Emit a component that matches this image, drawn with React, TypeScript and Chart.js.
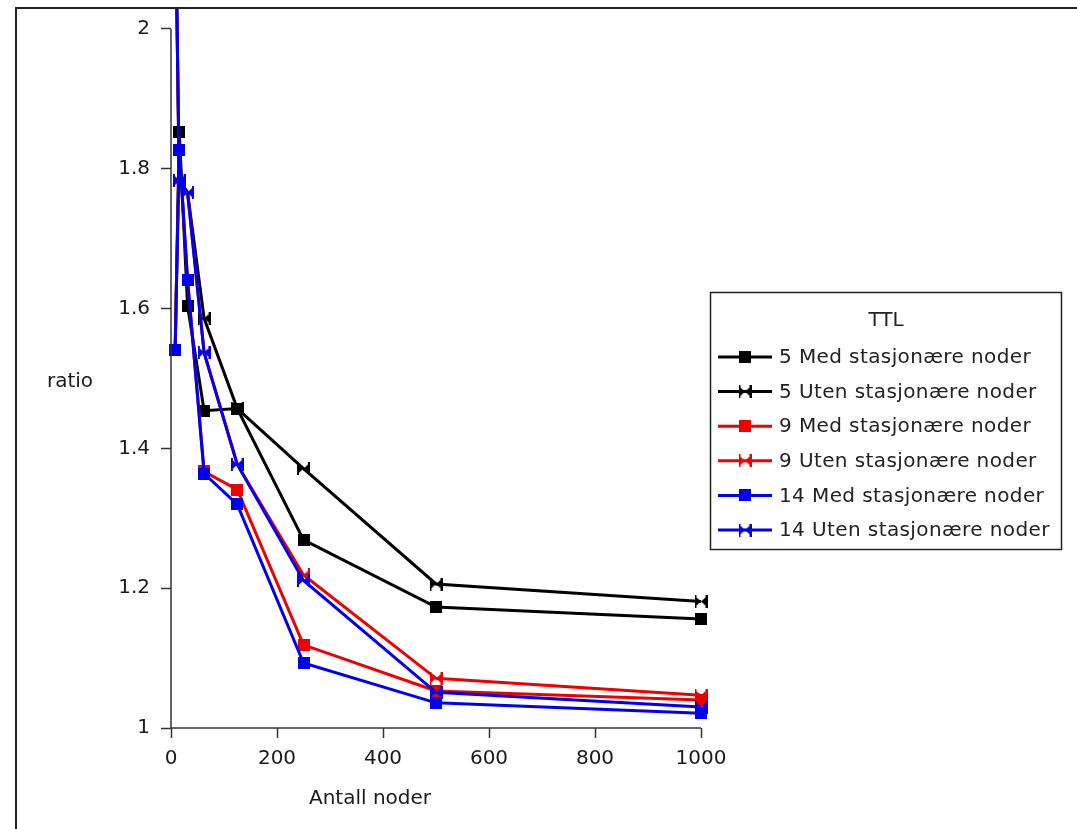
import { useEffect, useRef } from "react";
import { Chart, registerables } from "chart.js";

Chart.register(...registerables);

// ---- data ----
const xNodes = [7.8125, 15.625, 31.25, 62.5, 125, 250, 500, 1000];
const med5 = [1.541, 1.853, 1.604, 1.454, 1.457, 1.269, 1.173, 1.156];
const uten5 = [2.2, 1.783, 1.766, 1.586, 1.457, 1.371, 1.206, 1.181];
const med9 = [1.541, 1.827, 1.641, 1.367, 1.341, 1.119, 1.053, 1.04];
const uten9 = [2.2, 1.783, 1.766, 1.537, 1.377, 1.219, 1.071, 1.047];
const med14 = [1.541, 1.827, 1.641, 1.364, 1.32, 1.093, 1.036, 1.021];
const uten14 = [2.2, 1.783, 1.766, 1.537, 1.377, 1.211, 1.051, 1.03];
const seriesLabels = [
  "5 Med stasjonære noder",
  "5 Uten stasjonære noder",
  "9 Med stasjonære noder",
  "9 Uten stasjonære noder",
  "14 Med stasjonære noder",
  "14 Uten stasjonære noder",
];
const yTicks = [1, 1.2, 1.4, 1.6, 1.8, 2];
const xTicks = [0, 200, 400, 600, 800, 1000];
const legendTitle = "TTL";
const xTitle = "Antall noder";
const yTitle = "ratio";

const FONT = '"DejaVu Sans", sans-serif';
const BLACK = "#000000";
const RED = "#ee0000";
const BLUE = "#0000ee";

function squareMarker(color: string, size = 12) {
  const c = document.createElement("canvas");
  c.width = size;
  c.height = size;
  const g = c.getContext("2d")!;
  g.fillStyle = color;
  g.fillRect(0, 0, size, size);
  return c;
}

function bowtieMarker(color: string, size = 13) {
  const c = document.createElement("canvas");
  c.width = size;
  c.height = size;
  const g = c.getContext("2d")!;
  const m = size / 2;
  g.fillStyle = color;
  g.beginPath();
  g.moveTo(0, 0.5);
  g.lineTo(m, m);
  g.lineTo(0, size - 0.5);
  g.closePath();
  g.moveTo(size, 0.5);
  g.lineTo(m, m);
  g.lineTo(size, size - 0.5);
  g.closePath();
  g.fill();
  g.fillRect(0, 0, 2, size);
  g.fillRect(size - 2, 0, 2, size);
  return c;
}

export default function App() {
  const ref = useRef<HTMLCanvasElement | null>(null);

  useEffect(() => {
    if (!ref.current) return;
    const series = [med5, uten5, med9, uten9, med14, uten14];
    const colors = [BLACK, BLACK, RED, RED, BLUE, BLUE];
    const markers = series.map((_, i) =>
      i % 2 === 0 ? squareMarker(colors[i]) : bowtieMarker(colors[i])
    );
    const orders = [5, 4, 3, 2, 1, 0];

    const datasets = series.map((vals, i) => ({
      label: seriesLabels[i],
      data: vals.map((v, j) => ({ x: xNodes[j], y: v })),
      borderColor: colors[i],
      backgroundColor: colors[i],
      borderWidth: 3,
      pointStyle: markers[i],
      pointRadius: 6,
      tension: 0,
      order: orders[i],
      clip: { left: 10, right: 10, bottom: 10, top: 0 },
    }));

    const axesAndLegend = {
      id: "axesAndLegend",
      afterDraw(chart: any) {
        const ctx = chart.ctx;
        const xs = chart.scales.x;
        const ys = chart.scales.y;
        ctx.save();
        ctx.strokeStyle = "#333";
        ctx.lineWidth = 1.5;
        // y axis line from 1 to 2
        const ax = xs.getPixelForValue(xTicks[0]);
        ctx.beginPath();
        ctx.moveTo(ax, ys.getPixelForValue(yTicks[0]));
        ctx.lineTo(ax, ys.getPixelForValue(yTicks[yTicks.length - 1]));
        ctx.stroke();
        // x axis line
        const ay = ys.getPixelForValue(yTicks[0]);
        ctx.beginPath();
        ctx.moveTo(xs.getPixelForValue(xTicks[0]), ay);
        ctx.lineTo(xs.getPixelForValue(xTicks[xTicks.length - 1]), ay);
        ctx.stroke();

        // legend
        const bx = 710.5, by = 292.5, bw = 351, bh = 257;
        ctx.fillStyle = "#ffffff";
        ctx.fillRect(bx, by, bw, bh);
        ctx.strokeStyle = "#222";
        ctx.lineWidth = 1.5;
        ctx.strokeRect(bx, by, bw, bh);
        ctx.fillStyle = "#222";
        ctx.font = `20px ${FONT}`;
        ctx.textBaseline = "middle";
        ctx.textAlign = "center";
        ctx.fillText(legendTitle, bx + bw / 2, 321);
        ctx.textAlign = "left";
        try {
          (ctx as any).letterSpacing = "0.4px";
        } catch (e) {}
        for (let i = 0; i < seriesLabels.length; i++) {
          const y = 357 + i * 34.6;
          ctx.strokeStyle = colors[i];
          ctx.lineWidth = 3;
          ctx.beginPath();
          ctx.moveTo(718, y);
          ctx.lineTo(772, y);
          ctx.stroke();
          const mk = markers[i];
          ctx.drawImage(mk, 745 - mk.width / 2, y - mk.height / 2);
          ctx.fillStyle = "#222";
          ctx.fillText(seriesLabels[i], 779, y + 1);
        }
        try {
          (ctx as any).letterSpacing = "0px";
        } catch (e) {}
        ctx.restore();
      },
    };

    const chart = new Chart(ref.current, {
      type: "line",
      data: { datasets },
      options: {
        animation: false,
        responsive: false,
        maintainAspectRatio: false,
        layout: { padding: { left: 0, top: 8, right: 376, bottom: 0 } },
        plugins: {
          legend: { display: false },
          tooltip: { enabled: false },
          title: { display: false },
        },
        scales: {
          x: {
            type: "linear",
            min: 0,
            max: 1000,
            afterBuildTicks: (s: any) => {
              s.ticks = xTicks.map((v) => ({ value: v }));
            },
            afterFit: (s: any) => {
              s.height = 101;
              s.paddingLeft = 0;
            },
            border: { display: false },
            grid: {
              display: true,
              drawOnChartArea: false,
              drawTicks: true,
              tickLength: 10,
              tickColor: "#333",
              tickWidth: 1.5,
            },
            ticks: {
              padding: 9,
              color: "#1a1a1a",
              font: { family: FONT, size: 20 },
              maxRotation: 0,
              callback: (v: any) => String(v),
            },
          },
          y: {
            type: "linear",
            min: 1,
            max: 1 + 720 / 700,
            afterBuildTicks: (s: any) => {
              s.ticks = yTicks.map((v) => ({ value: v }));
            },
            afterFit: (s: any) => {
              s.width = 171;
              s.paddingTop = 0;
              s.paddingBottom = 0;
            },
            border: { display: false },
            grid: {
              display: true,
              drawOnChartArea: false,
              drawTicks: true,
              tickLength: 10,
              tickColor: "#333",
              tickWidth: 1.5,
            },
            ticks: {
              padding: 11,
              color: "#1a1a1a",
              font: { family: FONT, size: 20 },
              callback: (v: any) => String(Math.round(Number(v) * 10) / 10),
            },
          },
        },
      },
      plugins: [axesAndLegend],
    } as any);

    return () => chart.destroy();
  }, []);

  return (
    <div
      style={{
        position: "absolute",
        left: 0,
        top: 0,
        width: 1077,
        height: 829,
        background: "#ffffff",
        overflow: "hidden",
        fontFamily: FONT,
      }}
    >
      <canvas
        ref={ref}
        width={1077}
        height={829}
        style={{ position: "absolute", left: 0, top: 0, width: 1077, height: 829 }}
      />
      <div
        style={{
          position: "absolute",
          left: 15,
          top: 7,
          right: 0,
          bottom: 0,
          borderTop: "2px solid #222",
          borderLeft: "2px solid #222",
          pointerEvents: "none",
        }}
      />
      <div
        style={{
          position: "absolute",
          left: 20,
          width: 100,
          top: 366,
          textAlign: "center",
          fontSize: 20,
          color: "#1a1a1a",
          lineHeight: "28px",
        }}
      >
        {yTitle}
      </div>
      <div
        style={{
          position: "absolute",
          left: 270,
          width: 200,
          top: 783,
          textAlign: "center",
          fontSize: 20,
          color: "#1a1a1a",
          lineHeight: "28px",
        }}
      >
        {xTitle}
      </div>
    </div>
  );
}
